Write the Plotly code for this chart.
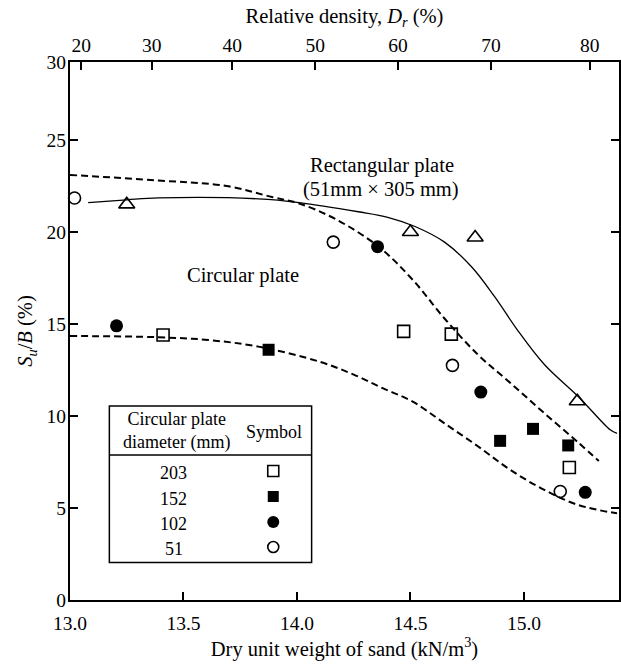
import plotly.graph_objects as go

# Plate-load tests on sand: settlement ratio at ultimate load vs dry unit weight
# Circular plates, grouped by diameter (mm)
gamma_203 = [13.41, 14.47, 14.68, 15.20]
su_203 = [14.4, 14.6, 14.45, 7.2]
gamma_152 = [13.875, 14.895, 15.04, 15.195]
su_152 = [13.6, 8.65, 9.3, 8.4]
gamma_102 = [13.205, 14.355, 14.81, 15.27]
su_102 = [14.9, 19.2, 11.3, 5.85]
gamma_51 = [13.02, 14.16, 14.685, 15.16]
su_51 = [21.85, 19.45, 12.75, 5.9]
# Rectangular plate 51 mm x 305 mm
gamma_rect = [13.25, 14.50, 14.785, 15.235]
su_rect = [21.5, 20.0, 19.7, 10.8]

# Trend curves
rect_curve_x = [13.08, 13.25, 13.39, 13.83, 14.01, 14.27, 14.40, 14.52, 14.65, 14.77,
                14.87, 14.97, 15.09, 15.24, 15.38, 15.41]
rect_curve_y = [21.6, 21.75, 21.85, 21.8, 21.6, 21.1, 20.8, 20.3, 19.45, 18.1,
                16.5, 14.7, 12.8, 11.05, 9.25, 9.05]
circ_upper_x = [13.0, 13.39, 13.69, 13.89, 14.01, 14.17, 14.36, 14.51, 14.65, 14.80,
                14.94, 15.09, 15.24, 15.33]
circ_upper_y = [23.1, 22.8, 22.5, 21.9, 21.55, 20.7, 19.2, 17.4, 15.3, 13.3,
                11.8, 10.15, 8.55, 7.55]
circ_lower_x = [13.0, 13.39, 13.61, 13.83, 14.10, 14.25, 14.38, 14.51, 14.65, 14.80,
                14.94, 15.09, 15.24, 15.41]
circ_lower_y = [14.35, 14.28, 14.13, 13.77, 12.95, 12.25, 11.5, 10.78, 9.6, 8.33,
                7.07, 5.98, 5.16, 4.71]

# Relative density scale (top axis) and the unit weights it corresponds to
dr_ticks = [20, 30, 40, 50, 60, 70, 80]
dr_tick_gamma = [13.05, 13.36, 13.715, 14.08, 14.445, 14.855, 15.29]

# Legend table rows
legend_diam = ["203", "152", "102", "51"]

FONT = "Liberation Serif"
W, H = 621, 666
ML, MR, MT, MB = 70, 0, 62, 66
X_MIN, X_MAX = 13.0, 13.0 + (W - ML - MR) / 227.8
Y_MIN, Y_MAX = 0.0, (H - MT - MB) / 18.4


def px_to_paper(px, py):
    return (px - ML) / (W - ML - MR), (H - MB - py) / (H - MT - MB)


def px_to_data(px, py):
    fx, fy = px_to_paper(px, py)
    return X_MIN + fx * (X_MAX - X_MIN), Y_MIN + fy * (Y_MAX - Y_MIN)


fig = go.Figure()

dash_line = dict(color="black", width=2, dash="7px,4px", shape="spline", smoothing=1.0)
fig.add_trace(go.Scatter(x=circ_upper_x, y=circ_upper_y, mode="lines", line=dash_line,
                         hoverinfo="skip"))
fig.add_trace(go.Scatter(x=circ_lower_x, y=circ_lower_y, mode="lines", line=dash_line,
                         hoverinfo="skip"))
fig.add_trace(go.Scatter(x=rect_curve_x, y=rect_curve_y, mode="lines",
                         line=dict(color="black", width=1.3, shape="spline", smoothing=1.0),
                         hoverinfo="skip"))

marker_styles = {
    "203": dict(symbol="square-open", size=12, color="black", line=dict(width=1.6, color="black")),
    "152": dict(symbol="square", size=12, color="black"),
    "102": dict(symbol="circle", size=13, color="black"),
    "51": dict(symbol="circle-open", size=12, color="black", line=dict(width=1.6, color="black")),
}
series = {
    "203": (gamma_203, su_203),
    "152": (gamma_152, su_152),
    "102": (gamma_102, su_102),
    "51": (gamma_51, su_51),
}
for key, (gx, gy) in series.items():
    fig.add_trace(go.Scatter(x=gx, y=gy, mode="markers", marker=marker_styles[key],
                             cliponaxis=False, name=key))
fig.add_trace(go.Scatter(x=gamma_rect, y=su_rect, mode="markers", cliponaxis=False,
                         marker=dict(symbol="triangle-up-open", size=14, color="black",
                                     line=dict(width=1.6, color="black"))))

# carrier trace for the relative-density axis
fig.add_trace(go.Scatter(x=dr_tick_gamma, y=[None] * len(dr_tick_gamma), xaxis="x2",
                         mode="markers", hoverinfo="skip"))

# Legend table
box_l, box_r, box_t, box_b, box_sep = 109.5, 312.5, 406, 562.5, 455
x0, y0 = px_to_paper(box_l, box_b)
x1, y1 = px_to_paper(box_r, box_t)
fig.add_shape(type="rect", xref="paper", yref="paper", x0=x0, y0=y0, x1=x1, y1=y1,
              line=dict(color="black", width=1.5), fillcolor="white", layer="below")
_, ys = px_to_paper(0, box_sep)
fig.add_shape(type="line", xref="paper", yref="paper", x0=x0, x1=x1, y0=ys, y1=ys,
              line=dict(color="black", width=1.5), layer="below")

annotations = []


def text(px, py, s, size, **kw):
    fx, fy = px_to_paper(px, py)
    annotations.append(dict(x=fx, y=fy, xref="paper", yref="paper", text=s, showarrow=False,
                            font=dict(family=FONT, size=size, color="black"),
                            xanchor="center", yanchor="middle", **kw))


text(177, 431, "Circular plate<br>diameter (mm)", 18, align="center")
text(275, 432, "Symbol", 18)
row_y = [471, 496.5, 522, 547]
sym_x = 274
for d, ry in zip(legend_diam, row_y):
    text(174, ry + 2, d, 18)
    lx, ly = px_to_data(sym_x, ry)
    st = dict(marker_styles[d])
    st["size"] = st["size"] - 1
    fig.add_trace(go.Scatter(x=[lx], y=[ly], mode="markers", marker=st, cliponaxis=False,
                             hoverinfo="skip"))

text(383, 165, "Rectangular plate", 20.5)
text(382, 189, "(51mm × 305 mm)", 20.5)
text(244, 275, "Circular plate", 20.5)

TICK_SIZE = 19.5
TITLE_SIZE = 20.5

fig.update_layout(
    width=W, height=H,
    margin=dict(l=ML, r=MR, t=MT, b=MB),
    paper_bgcolor="white", plot_bgcolor="white",
    showlegend=False,
    font=dict(family=FONT, size=TICK_SIZE, color="black"),
    annotations=annotations,
    xaxis=dict(
        range=[X_MIN, X_MAX], tickvals=[13.0, 13.5, 14.0, 14.5, 15.0],
        ticktext=["13.0", "13.5", "14.0", "14.5", "15.0"],
        ticks="inside", ticklen=8, tickwidth=1.5, tickcolor="black",
        showline=True, linewidth=2, linecolor="black", mirror=False,
        showgrid=False, zeroline=False, ticklabelstandoff=5,
        title=dict(text="Dry unit weight of sand (kN/m<sup>3</sup>)", standoff=2,
                   font=dict(family=FONT, size=TITLE_SIZE)),
        tickfont=dict(family=FONT, size=TICK_SIZE),
    ),
    xaxis2=dict(
        overlaying="x", side="top", range=[X_MIN, X_MAX],
        tickvals=dr_tick_gamma, ticktext=[str(v) for v in dr_ticks],
        ticks="inside", ticklen=8, tickwidth=1.5, tickcolor="black",
        showline=True, linewidth=2, linecolor="black",
        showgrid=False, zeroline=False,
        title=dict(text="Relative density, <i>D<sub>r</sub></i> (%)", standoff=6,
                   font=dict(family=FONT, size=TITLE_SIZE)),
        tickfont=dict(family=FONT, size=TICK_SIZE),
    ),
    yaxis=dict(
        range=[Y_MIN, Y_MAX], tickvals=[0, 5, 10, 15, 20, 25, Y_MAX],
        ticktext=["0", "5", "10", "15", "20", "25", "30"],
        ticks="inside", ticklen=8, tickwidth=1.5, tickcolor="black",
        showline=True, linewidth=2, linecolor="black", mirror="ticks",
        showgrid=False, zeroline=False, ticklabelstandoff=-2,
        title=dict(text="<i>S<sub>u</sub></i>/<i>B</i> (%)", standoff=8,
                   font=dict(family=FONT, size=TITLE_SIZE)),
        tickfont=dict(family=FONT, size=TICK_SIZE),
    ),
)

fig.write_html("out.html")
